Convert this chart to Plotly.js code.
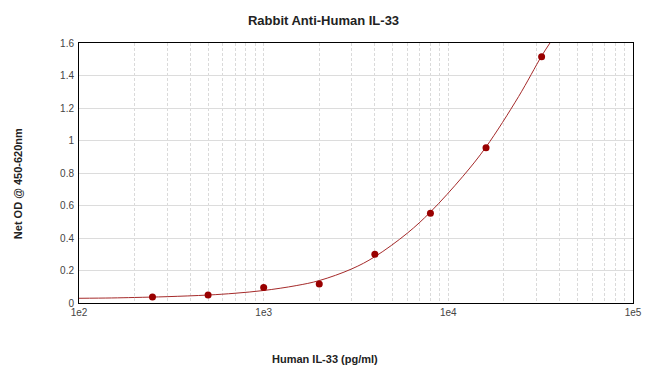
<!DOCTYPE html>
<html>
<head>
<meta charset="utf-8">
<script src="https://cdn.plot.ly/plotly-3.0.1.min.js"></script>
<style>html,body{margin:0;padding:0;background:#fff;}#chart{width:650px;height:372px;}</style>
</head>
<body>
<div id="chart"></div>
<script>
// Measured standards
const concentrations = [250, 500, 1000, 2000, 4000, 8000, 16000, 32000];
const netOD = [0.037, 0.049, 0.095, 0.117, 0.30, 0.553, 0.955, 1.516];

// Fitted curve
const curveX = [100, 150, 200, 300, 500, 700, 1000, 1500, 2000, 3000, 4000, 6000, 8000, 12000, 16000, 24000, 32000, 35500];
const curveY = [0.029, 0.031, 0.034, 0.039, 0.049, 0.06, 0.077, 0.107, 0.138, 0.21, 0.285, 0.43, 0.56, 0.78, 0.96, 1.27, 1.52, 1.6];

// Tick labels
const xTickVals = [100, 1000, 10000, 100000];
const xTickText = ["1e2", "1e3", "1e4", "1e5"];
const yTickVals = [0, 0.2, 0.4, 0.6, 0.8, 1, 1.2, 1.4, 1.6];
const yTickText = ["0", "0.2", "0.4", "0.6", "0.8", "1", "1.2", "1.4", "1.6"];

const titleFont = {family: 'Liberation Sans, Arial, sans-serif', size: 11, color: '#222', weight: 'bold'};

const traces = [
  {
    x: curveX, y: curveY, type: 'scatter', mode: 'lines',
    line: {color: '#a52a2a', width: 1, shape: 'spline', smoothing: 1},
    hoverinfo: 'skip', showlegend: false
  },
  {
    x: concentrations, y: netOD, type: 'scatter', mode: 'markers',
    marker: {color: '#990000', size: 7},
    showlegend: false
  }
];

const layout = {
  width: 650, height: 372,
  margin: {l: 79, r: 17, t: 43, b: 69},
  paper_bgcolor: '#fff', plot_bgcolor: '#fff',
  font: {family: 'Liberation Sans, Arial, sans-serif', color: '#444', size: 10},
  title: {
    text: 'Rabbit Anti-Human IL-33',
    font: {family: 'Liberation Sans, Arial, sans-serif', size: 13, color: '#222', weight: 'bold'},
    x: 323.5 / 650, xref: 'container', xanchor: 'center',
    y: 1 - 20 / 372, yref: 'container', yanchor: 'middle'
  },
  xaxis: {
    type: 'log', range: [2, 5],
    tickvals: xTickVals, ticktext: xTickText,
    ticks: '', showline: true, linecolor: '#000', linewidth: 1, mirror: true,
    showgrid: true, gridcolor: '#dadada', griddash: '3px,2px', gridwidth: 1,
    minor: {showgrid: true, gridcolor: '#dadada', griddash: '3px,2px', gridwidth: 1, dtick: 'D1'},
    zeroline: false,
    tickfont: {size: 10, color: '#444'}
  },
  yaxis: {
    range: [0, 1.6],
    tickvals: yTickVals, ticktext: yTickText,
    ticks: '', ticklabelstandoff: 2,
    showline: true, linecolor: '#000', linewidth: 1, mirror: true,
    showgrid: true, gridcolor: '#dcdcdc', gridwidth: 1,
    zeroline: false,
    tickfont: {size: 10, color: '#444'}
  },
  annotations: [
    {
      text: 'Net OD @ 450-620nm', textangle: -90, showarrow: false,
      xref: 'paper', yref: 'paper',
      x: (18 - 79) / 554, y: (302.7 - 184) / 259.7,
      xanchor: 'center', yanchor: 'middle',
      font: titleFont
    },
    {
      text: 'Human IL-33 (pg/ml)', showarrow: false,
      xref: 'paper', yref: 'paper',
      x: (325 - 79) / 554, y: (302.7 - 359) / 259.7,
      xanchor: 'center', yanchor: 'middle',
      font: titleFont
    }
  ]
};

Plotly.newPlot('chart', traces, layout, {displayModeBar: false, staticPlot: true});
</script>
</body>
</html>
